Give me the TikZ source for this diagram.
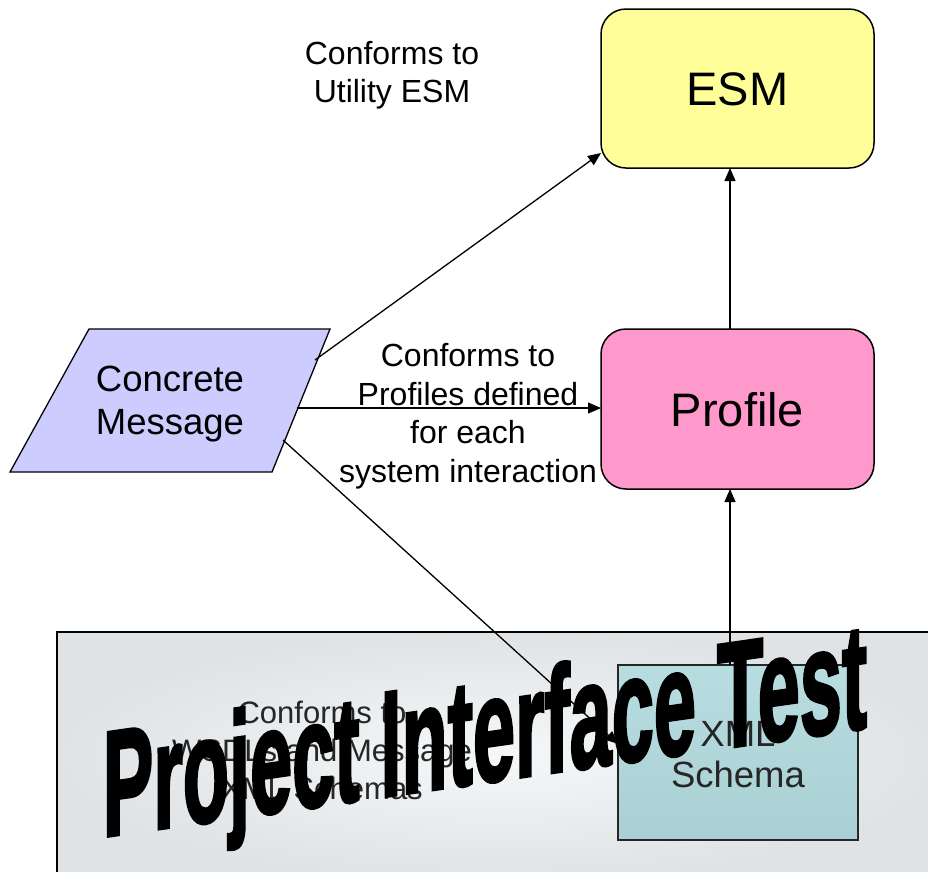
\documentclass[tikz,border=0pt]{standalone}
\usepackage{fontspec}
\setmainfont{Liberation Sans}
\newfontfamily\wmfont[FakeBold=2.5]{Liberation Sans}
\usetikzlibrary{arrows.meta}
\definecolor{esmfill}{HTML}{FFFF99}
\definecolor{proffill}{HTML}{FF99CC}
\definecolor{cmfill}{HTML}{CCCCFF}
\definecolor{xmlin}{HTML}{B8DDE0}
\definecolor{xmlout}{HTML}{A9D0D4}
\definecolor{bgin}{HTML}{F4F8F9}
\definecolor{bgout}{HTML}{DFE3E5}
\definecolor{darktext}{HTML}{262626}
\tikzset{
  roundbox/.style={draw=black, line width=1.5pt, rounded corners=25pt},
  conn/.style={line width=1.3pt, -{Triangle[length=13pt,width=11pt]}},
  lbl/.style={align=center, font=\fontsize{32}{38.5}\selectfont},
}
\begin{document}
\begin{tikzpicture}[x=1pt,y=-1pt]
\useasboundingbox (0,0) rectangle (928,871);
% bottom shaded area
\shade[inner color=bgin, outer color=bgout] (57,632) rectangle (940,880);
\draw[line width=1.6pt] (57,880) -- (57,632) -- (940,632);
% ESM
\draw[roundbox, fill=esmfill] (601,9) rectangle (874,168);
\node[font=\fontsize{47}{50}\selectfont] (esm) at (737.5,89.5) {ESM};
\coordinate (esmS) at (730,168);
\coordinate (esmSW) at (601,153);
% Profile
\draw[roundbox, fill=proffill] (601,329) rectangle (874,489);
\node[font=\fontsize{47}{50}\selectfont] (prof) at (737.5,410) {Profile};
\coordinate (profN) at (730,329);
\coordinate (profS) at (730,489);
\coordinate (profW) at (601,408);
% Concrete Message
\draw[line width=1.3pt, fill=cmfill] (89,329) -- (330,329) -- (272,472) -- (10,472) -- cycle;
\node[align=center, font=\fontsize{36.5}{43}\selectfont] (cm) at (170,404) {Concrete\\Message};
\coordinate (cmA) at (315,360);
\coordinate (cmB) at (297,408);
\coordinate (cmC) at (283,440);
% XML Schema
\shade[top color=xmlin, bottom color=xmlout, draw=black!85, line width=1.6pt] (618,665) rectangle (858,840);
\node[align=center, text=darktext, font=\fontsize{36.5}{41}\selectfont] (xml) at (738,755) {XML\\Schema};
\coordinate (xmlN) at (730,665);
\coordinate (xmlW) at (618,744);
% labels
\node[lbl] (l1) at (392,75) {Conforms to\\Utility ESM};
\node[lbl] (l2) at (468,416) {Conforms to\\Profiles defined\\for each\\system interaction};
\node[lbl, text=darktext, font=\fontsize{31}{38}\selectfont] (l3) at (322,750) {Conforms to\\WSDLs and Message\\XML Schemas};
% connectors
\draw[conn] (cmA) -- (esmSW);
\draw[conn] (cmB) -- (profW);
\draw[conn] (profN) -- (esmS);
\draw[conn] (xmlN) -- (profS);
\draw[conn] (cmC) -- (xmlW);
% watermark
\node[yslant=0.143, xscale=0.757, yscale=1.5, anchor=base, font=\wmfont\bfseries\fontsize{100}{100}\selectfont, inner sep=0pt] (wm) at (485,782) {Project Interface Test};
\end{tikzpicture}
\end{document}
